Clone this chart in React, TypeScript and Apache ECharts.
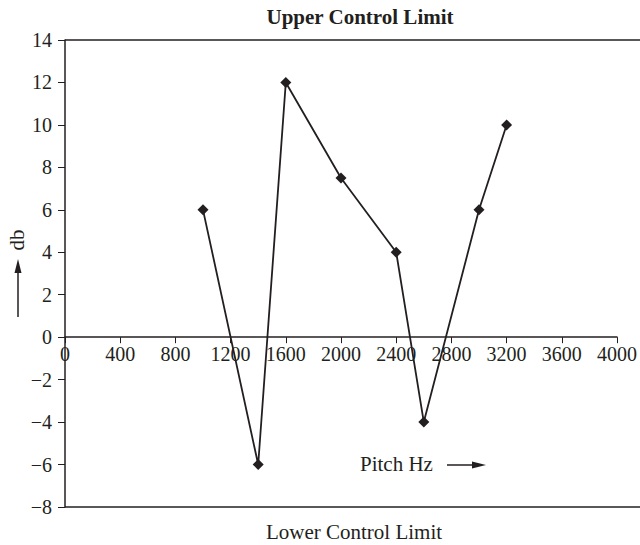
import React, { useEffect, useRef } from "react";
import * as echarts from "echarts";

const pitchHz = [1000, 1400, 1600, 2000, 2400, 2600, 3000, 3200];
const db = [6, -6, 12, 7.5, 4, -4, 6, 10];
const titleText = "Upper Control Limit";
const bottomText = "Lower Control Limit";
const xName = "Pitch Hz";
const yName = "db";

const FONT = "'Liberation Serif', 'DejaVu Serif', serif";
const INK = "#231f20";

export default function App() {
  const ref = useRef<HTMLDivElement>(null);
  useEffect(() => {
    if (!ref.current) return;
    const chart = echarts.init(ref.current, null, { renderer: "svg" });
    const data = pitchHz.map((x, i) => [x, db[i]]);
    const option: any = {
      animation: false,
      backgroundColor: "#ffffff",
      textStyle: { fontFamily: FONT },
      title: {
        text: titleText,
        left: 355,
        textAlign: "center",
        top: 1,
        textStyle: { fontFamily: FONT, fontSize: 21, fontWeight: "bold", color: INK },
      },
      grid: { left: 65, right: 17, top: 40, bottom: 38 },
      xAxis: {
        type: "value",
        min: 0,
        max: 4000,
        interval: 400,
        offset: 0,
        splitLine: { show: false },
        axisLine: { onZero: false, lineStyle: { color: INK, width: 1.5 } },
        axisTick: { show: true, length: 6, lineStyle: { color: INK } },
        axisLabel: {
          color: INK,
          fontFamily: FONT,
          fontSize: 20,
          margin: 7,
          formatter: (v: number) => String(v),
        },
      },
      yAxis: {
        type: "value",
        min: -8,
        max: 14,
        interval: 2,
        splitLine: { show: false },
        axisLine: { show: true, lineStyle: { color: INK, width: 1.5 } },
        axisTick: { show: true, length: 7, lineStyle: { color: INK } },
        axisLabel: {
          color: INK,
          fontFamily: FONT,
          fontSize: 20,
          margin: 13,
          formatter: (v: number) => (v < 0 ? "\u2212" + Math.abs(v) : String(v)),
        },
      },
      series: [
        {
          type: "line",
          data,
          symbol: "diamond",
          symbolSize: 11,
          lineStyle: { color: INK, width: 1.8 },
          itemStyle: { color: INK },
          z: 5,
        },
      ],
      graphic: [
        { type: "line", shape: { x1: 65, y1: 40, x2: 640, y2: 40 }, style: { stroke: INK, lineWidth: 1.5 } },
        { type: "line", shape: { x1: 65, y1: 507, x2: 640, y2: 507 }, style: { stroke: INK, lineWidth: 1.5 } },
        {
          type: "text",
          x: 354,
          y: 532,
          style: { text: bottomText, font: `21px ${FONT}`, fill: INK, align: "center", verticalAlign: "middle" },
        },
        {
          type: "text",
          x: 360,
          y: 464,
          style: { text: xName, font: `21px ${FONT}`, fill: INK, align: "left", verticalAlign: "middle" },
        },
        { type: "line", shape: { x1: 447, y1: 465, x2: 476, y2: 465 }, style: { stroke: INK, lineWidth: 1.5 } },
        { type: "polygon", shape: { points: [[486, 465], [472, 461.5], [472, 468.5]] }, style: { fill: INK } },
        {
          type: "text",
          x: 17,
          y: 240,
          rotation: Math.PI / 2,
          style: { text: yName, font: `21px ${FONT}`, fill: INK, align: "center", verticalAlign: "middle" },
        },
        { type: "line", shape: { x1: 18, y1: 317, x2: 18, y2: 270 }, style: { stroke: INK, lineWidth: 1.5 } },
        { type: "polygon", shape: { points: [[18, 259], [14.5, 273], [21.5, 273]] }, style: { fill: INK } },
      ],
    };
    chart.setOption(option);
    // move the x axis (line, ticks, labels) up to the y = 0 line
    const zeroY = chart.convertToPixel({ yAxisIndex: 0 }, 0) as number;
    const bottomY = chart.convertToPixel({ yAxisIndex: 0 }, -8) as number;
    chart.setOption({ xAxis: { offset: -(bottomY - zeroY) } });
    return () => chart.dispose();
  }, []);
  return <div ref={ref} style={{ position: "absolute", left: 0, top: 0, width: 640, height: 545 }} />;
}
